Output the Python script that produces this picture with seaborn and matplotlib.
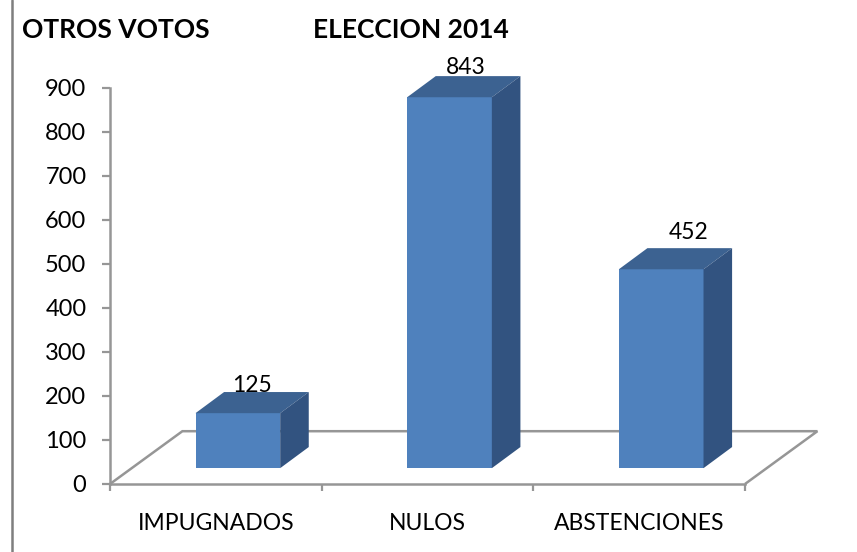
import numpy as np
import pandas as pd
import matplotlib
matplotlib.use('Agg')
import matplotlib.pyplot as plt
from matplotlib.patches import Polygon
from matplotlib.lines import Line2D
import seaborn as sns

categories = ['IMPUGNADOS', 'NULOS', 'ABSTENCIONES']
values = [125, 843, 452]
y_ticks = [0, 100, 200, 300, 400, 500, 600, 700, 800, 900]

FRONT = '#4f81bd'
TOP = '#3c6291'
SIDE = '#325380'
GREY = '#969696'

sns.set_theme(style='white')
plt.rcParams['font.family'] = ['Lato', 'DejaVu Sans']

W, H = 857, 552
fig = plt.figure(figsize=(W / 100, H / 100), dpi=100)
ax = fig.add_axes([110 / W, 1 - 484 / H, 635 / W, 396 / H])

df = pd.DataFrame({'cat': categories, 'val': values})
base = 36    # the bars stand on the floor, a bit above zero
sns.barplot(data=df, x='cat', y='val', color=FRONT, saturation=1, width=0.4,
            bottom=base, edgecolor='none', linewidth=0, ax=ax, zorder=3)

# bars are centred right of the middle of each category cell
shift = 0.104
ax.set_xlim(-0.5 - shift, 2.5 - shift)
ax.set_ylim(0, 900)

# floor of the 3d box
floor_dx, floor_dy = 0.342, 120
x0, x1 = ax.get_xlim()
ax.add_patch(Polygon([(x0, 0), (x0 + floor_dx, floor_dy), (x1 + floor_dx, floor_dy), (x1, 0)],
                     closed=False, fill=False, edgecolor=GREY, lw=1.8, clip_on=False, zorder=1))

# top and side faces
dx, dy = 0.135, 48
nudges = [(10, -2.5), (12, -1.5), (20, 3.5)]
for bar, v, nudge in zip(ax.patches, values, nudges):
    left = bar.get_x()
    right = left + bar.get_width()
    top = base + v
    ax.add_patch(Polygon([(left, top), (left + dx, top + dy), (right + dx, top + dy), (right, top)],
                         facecolor=TOP, edgecolor='none', clip_on=False, zorder=3))
    ax.add_patch(Polygon([(right, base), (right + dx, base + dy), (right + dx, top + dy), (right, top)],
                         facecolor=SIDE, edgecolor='none', clip_on=False, zorder=3))
    ax.annotate(str(v), ((left + right) / 2, top + dy), xytext=nudge, textcoords='offset points',
                ha='center', va='bottom', fontsize=16.5, color='black', zorder=2, annotation_clip=False)

ax.set_xlabel('')
ax.set_ylabel('')
ax.set_yticks(y_ticks)
ax.tick_params(axis='y', length=6, width=1.6, color=GREY, pad=11, labelsize=17, left=True, labelcolor='black')

# ticks mark the cell edges, labels go in the middle
ax.set_xticks(np.arange(4) - 0.5 - shift)
ax.set_xticklabels([])
ax.set_xticks(np.arange(3) - shift, labels=categories, minor=True)
ax.tick_params(axis='x', which='major', length=5, width=1.6, color=GREY, bottom=True)
ax.tick_params(axis='x', which='minor', length=0, pad=21, labelsize=16.5, labelcolor='black')

sns.despine(ax=ax, top=True, right=True)
for side in ['left', 'bottom']:
    ax.spines[side].set_color(GREY)
    ax.spines[side].set_linewidth(1.8)
ax.patch.set_alpha(0)

fig.text(22 / W, 1 - 30 / H, 'OTROS VOTOS', fontsize=19, fontweight='bold', va='center', color='black')
fig.text(313 / W, 1 - 30 / H, 'ELECCION 2014', fontsize=19, fontweight='bold', va='center', color='black')
fig.add_artist(Line2D([12 / W, 12 / W], [0, 1], color='#7f7f7f', lw=1.8))

fig.savefig('out.png', dpi=100)
